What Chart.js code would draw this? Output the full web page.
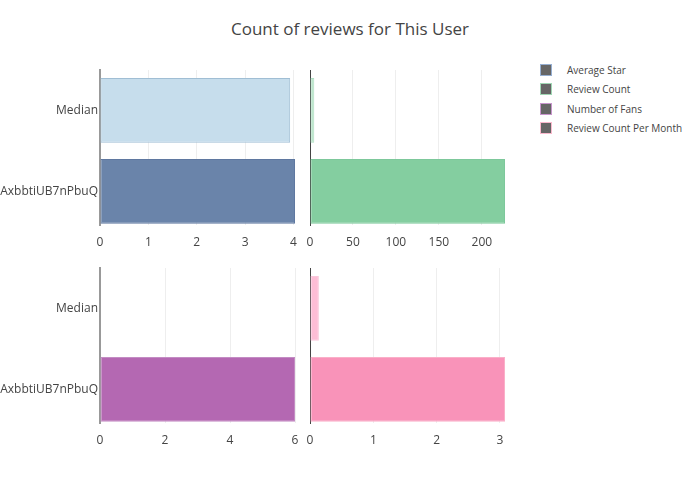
<!DOCTYPE html>
<html>
<head>
<meta charset="utf-8">
<script src="https://cdn.jsdelivr.net/npm/chart.js@4.4.0/dist/chart.umd.min.js"></script>
<style>
  html, body { margin:0; padding:0; background:#fff; }
  #wrap { position:relative; width:700px; height:500px; overflow:hidden; font-family:"Open Sans", sans-serif; }
  canvas { position:absolute; }
  #title { position:absolute; left:0; width:700px; top:17px; text-align:center; font-size:17px; color:#444; }
  #legend { position:absolute; left:540px; top:63px; font-size:10px; color:#444; }
  .li { position:relative; height:19.3px; line-height:14px; }
  .sw { position:absolute; left:0; top:1px; width:10px; height:10px; background:#666; border:1px solid; }
  .lt { position:absolute; left:27px; top:0; white-space:nowrap; }
</style>
</head>
<body>
<div id="wrap">
  <div id="title">Count of reviews for This User</div>
  <div id="legend"></div>
  <canvas id="c1" width="300" height="250" style="left:0;top:0;width:300px;height:250px"></canvas>
  <canvas id="c2" width="220" height="250" style="left:300px;top:0;width:220px;height:250px"></canvas>
  <canvas id="c3" width="300" height="200" style="left:0;top:250px;width:300px;height:200px"></canvas>
  <canvas id="c4" width="220" height="200" style="left:300px;top:250px;width:220px;height:200px"></canvas>
</div>
<script>
const categories = ['Median', 'AxbbtiUB7nPbuQ'];
const seriesNames = ['Average Star', 'Review Count', 'Number of Fans', 'Review Count Per Month'];
const averageStar = [3.93, 4.03];
const reviewCount = [5, 227];
const numberOfFans = [0, 6];
const reviewCountPerMonth = [0.14, 3.08];
const ticksAvgStar = [0, 1, 2, 3, 4];
const ticksReviewCount = [0, 50, 100, 150, 200];
const ticksFans = [0, 2, 4, 6];
const ticksPerMonth = [0, 1, 2, 3];

const legendBorders = ['rgb(150,175,210)', 'rgb(160,215,180)', 'rgb(200,150,205)', 'rgb(250,185,205)'];
const legend = document.getElementById('legend');
seriesNames.forEach((n, i) => {
  const d = document.createElement('div'); d.className = 'li';
  d.innerHTML = '<span class="sw" style="border-color:' + legendBorders[i] + '"></span><span class="lt">' + n + '</span>';
  legend.appendChild(d);
});

const nCat = categories.length;
function makeChart(id, values, ticks, fills, borders, opts) {
  const max = Math.max(...values);
  new Chart(document.getElementById(id), {
    type: 'bar',
    data: {
      datasets: [{
        data: values.map((v, i) => ({ x: v, y: nCat - 1 - i })),
        backgroundColor: fills, borderColor: borders,
        borderWidth: (c) => (c.raw && c.raw.x === 0 ? 0 : 1), borderSkipped: false,
        categoryPercentage: 1, barPercentage: 0.8
      }]
    },
    options: {
      indexAxis: 'y', responsive: false, animation: false, devicePixelRatio: 1,
      layout: { padding: opts.padding },
      plugins: { legend: { display: false }, tooltip: { enabled: false } },
      scales: {
        x: {
          type: 'linear', min: 0, max: max, offset: false,
          afterBuildTicks: (s) => { s.ticks = ticks.map(v => ({ value: v })); },
          afterFit: (s) => { s.height = opts.xh; s.paddingLeft = 0; s.paddingRight = 0; },
          ticks: { color: '#444', font: { family: 'Open Sans', size: 12 }, padding: 10, autoSkip: false, maxRotation: 0 },
          grid: { offset: false, color: (c) => c.tick && c.tick.value === 0 ? 'rgba(0,0,0,0)' : '#eee', drawTicks: false, lineWidth: 1 },
          border: { display: false }
        },
        y: {
          type: 'linear', min: -0.415, max: nCat - 0.5, offset: false,
          afterBuildTicks: (s) => { s.ticks = categories.map((c, i) => ({ value: nCat - 1 - i })); },
          afterFit: (s) => { s.width = opts.yw; s.paddingTop = 0; s.paddingBottom = 0; },
          ticks: { display: opts.ylabels, color: '#444', font: { family: 'Open Sans', size: 12 }, padding: 2,
            callback: (v) => categories[nCat - 1 - v] },
          grid: { display: false, drawTicks: false, offset: false },
          border: { display: true, color: opts.axisColor, width: opts.axisWidth }
        }
      }
    }
  });
}

makeChart('c1', averageStar, ticksAvgStar,
  ['rgb(198,221,236)', 'rgb(106,132,170)'], ['rgb(160,190,212)', 'rgb(95,120,160)'],
  { padding: { left: 0, right: 5, top: 70, bottom: 0 }, xh: 25, yw: 100, ylabels: true, axisColor: '#999', axisWidth: 2 });
makeChart('c2', reviewCount, ticksReviewCount,
  ['rgb(190,230,205)', 'rgb(132,206,160)'], ['rgb(175,222,195)', 'rgb(125,200,155)'],
  { padding: { left: 0, right: 15, top: 70, bottom: 0 }, xh: 25, yw: 10, ylabels: false, axisColor: '#444', axisWidth: 1 });
makeChart('c3', numberOfFans, ticksFans,
  ['rgb(225,190,225)', 'rgb(180,104,178)'], ['rgb(215,170,215)', 'rgb(195,140,195)'],
  { padding: { left: 0, right: 5, top: 18, bottom: 0 }, xh: 27, yw: 100, ylabels: true, axisColor: '#999', axisWidth: 2 });
makeChart('c4', reviewCountPerMonth, ticksPerMonth,
  ['rgb(253,190,214)', 'rgb(249,147,185)'], ['rgb(250,200,220)', 'rgb(250,175,200)'],
  { padding: { left: 0, right: 15, top: 18, bottom: 0 }, xh: 27, yw: 10, ylabels: false, axisColor: '#444', axisWidth: 1 });
</script>
</body>
</html>
